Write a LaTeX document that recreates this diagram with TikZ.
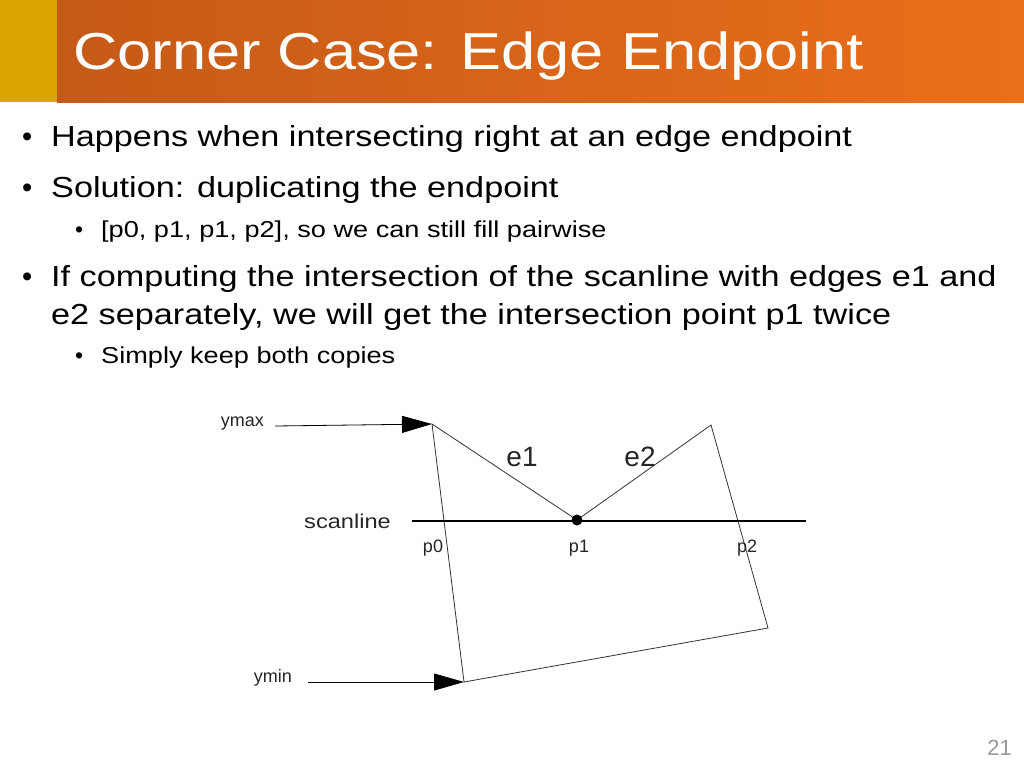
\documentclass[tikz,border=0pt]{standalone}
\usepackage{fontspec}
\setmainfont{Liberation Sans}
\newfontfamily\wide[FakeStretch=1.18]{Liberation Sans}
\usetikzlibrary{arrows.meta}
\definecolor{gold}{HTML}{D9A300}
\definecolor{orA}{HTML}{C55A17}
\definecolor{orB}{HTML}{EA6F1A}
\begin{document}
\begin{tikzpicture}[x=1pt,y=-1pt,
  bul/.style={anchor=base west,inner sep=0pt,font=\wide\fontsize{29}{34}\selectfont},
  sub/.style={anchor=base west,inner sep=0pt,font=\wide\fontsize{23}{28}\selectfont},
  dot/.style={anchor=base west,inner sep=0pt},
  lab/.style={inner sep=0pt,font=\fontsize{18}{20}\selectfont,text=black!85},
  big/.style={inner sep=0pt,font=\fontsize{28}{30}\selectfont,text=black!85},
  edge/.style={draw=black!80,line width=0.8pt},
  arr/.style={draw=black,line width=0.8pt,-{Triangle[length=30pt,width=17pt]}}]
\useasboundingbox (0,0) rectangle (1024,768);
\fill[white] (0,0) rectangle (1024,768);
\fill[gold] (0,0) rectangle (57,102);
\shade[left color=orA,right color=orB] (57,0) rectangle (1024,102);
\node[anchor=base west,inner sep=0pt,text=white,font=\wide\fontsize{52}{56}\selectfont] (title) at (73,70) {Corner Case: Edge Endpoint};
\node[dot,font=\fontsize{29}{34}\selectfont] (d1) at (22,146) {•};
\node[bul] (b1) at (51,146) {Happens when intersecting right at an edge endpoint};
\node[dot,font=\fontsize{29}{34}\selectfont] (d2) at (22,197) {•};
\node[bul] (b2) at (51,197) {Solution: duplicating the endpoint};
\node[dot,font=\fontsize{23}{28}\selectfont] (d3) at (75,237) {•};
\node[sub] (s1) at (101,237) {[p0, p1, p1, p2], so we can still fill pairwise};
\node[dot,font=\fontsize{29}{34}\selectfont] (d4) at (22,286) {•};
\node[bul] (b3) at (51,286) {If computing the intersection of the scanline with edges e1 and};
\node[bul] (b3b) at (51,324) {e2 separately, we will get the intersection point p1 twice};
\node[dot,font=\fontsize{23}{28}\selectfont] (d5) at (75,363) {•};
\node[sub] (s2) at (101,363) {Simply keep both copies};
% diagram
\coordinate (A) at (432,424);
\coordinate (P) at (577,520);
\coordinate (B) at (711,425);
\coordinate (C) at (768,628);
\coordinate (D) at (464,682);
\coordinate (s0) at (412,521);
\coordinate (s1e) at (806,521);
\coordinate (ya) at (275,426);
\coordinate (yb) at (308,682);
\draw[edge] (A) -- (P) -- (B) -- (C) -- (D) -- cycle;
\draw[line width=2.2pt] (s0) -- (s1e);
\fill (P) circle (5.5pt);
\draw[arr] (ya) -- (A);
\draw[arr] (yb) -- (D);
\node[lab,anchor=east] (ymax) at (264,424) {ymax};
\node[lab,anchor=east] (ymin) at (292,678) {ymin};
\node[lab,font=\wide\fontsize{20}{22}\selectfont,anchor=east] (scan) at (391,521) {scanline};
\node[lab] (p0) at (433,548) {p0};
\node[lab] (p1) at (579,548) {p1};
\node[lab] (p2) at (747,548) {p2};
\node[big] (e1) at (522,457) {e1};
\node[big] (e2) at (640,457) {e2};
\node[anchor=east,inner sep=0pt,text=black!40,font=\fontsize{22}{24}\selectfont] (pg) at (1012,748) {21};
\end{tikzpicture}
\end{document}
